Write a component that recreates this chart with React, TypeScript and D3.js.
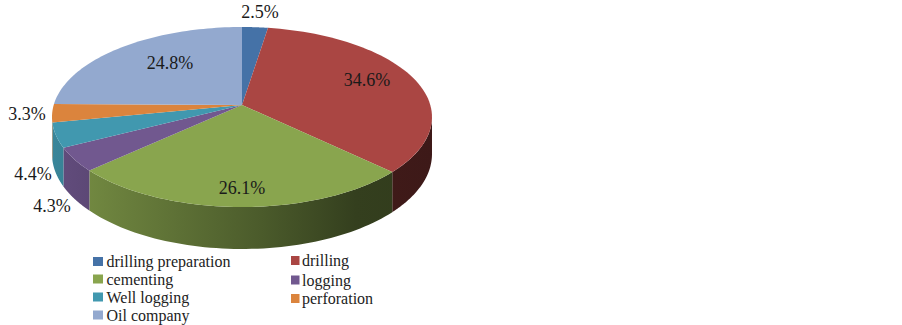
import * as d3 from 'd3';

const categories = ['drilling preparation', 'drilling', 'cementing', 'logging', 'Well logging', 'perforation', 'Oil company'];
const values = [2.5, 34.6, 26.1, 4.3, 4.4, 3.3, 24.8];
const colors = ['#4572a7', '#aa4643', '#89a54e', '#71588f', '#4198af', '#db843d', '#93a9cf'];

// hand placed, Excel moved these around
const labelPos: [number, number][] = [[260, 12], [367, 80], [242, 188], [52, 206], [33, 174], [27, 114], [170, 63]];
const legendPos: [number, number][] = [[93, 261.5], [291, 260.5], [93, 279], [291, 280], [93, 297], [291, 298.5], [93, 315]];

const W = 902;
const H = 325;
const cx = 242;
const cy = 105;
const a = 188.3;
const b = 88.4;
const k = 0.1333; // perspective foreshortening
const depth = 36.4;

// angle (0 = up, clockwise) -> tilted pie rim, r is 0..1
const project = (t: number, r = 1, drop = 0): [number, number] => {
  const w = 1 + k * r * Math.cos(t);
  return [cx + (a * r * Math.sin(t)) / w, cy - (b * r * Math.cos(t)) / w + (drop ? depth / w : 0)];
};

const samples = (t0: number, t1: number) => d3.range(0, 61).map((i) => t0 + ((t1 - t0) * i) / 60);

const line = d3.line();

// shade of the side wall going left to right
const shadeStops = [
  { offset: 0, f: 0.88 },
  { offset: 0.55, f: 0.55 },
  { offset: 0.8, f: 0.38 },
  { offset: 1, f: 0.36 },
];

const shade = (color: string, f: number) => {
  const c = d3.rgb(color);
  return d3.rgb(c.r * f, c.g * f, c.b * f).formatHex();
};

export default function App() {
  const slices = d3.pie<number>().sort(null)(values);

  // rim is only visible between the two silhouette points
  const wallStart = Math.acos(-k);
  const wallEnd = 2 * Math.PI - wallStart;

  return (
    <svg width={W} height={H} style={{ position: 'absolute', left: 0, top: 0, background: '#fff' }} fontFamily="'Liberation Serif', serif">
      <defs>
        {colors.map((c, i) => (
          <linearGradient key={i} id={`wall-${i}`} gradientUnits="userSpaceOnUse" x1={52} x2={432} y1={0} y2={0}>
            {shadeStops.map((s) => (
              <stop key={s.offset} offset={s.offset} stopColor={shade(c, s.f)} />
            ))}
          </linearGradient>
        ))}
      </defs>

      {slices.map((s, i) => {
        const t0 = Math.max(s.startAngle, wallStart);
        const t1 = Math.min(s.endAngle, wallEnd);
        if (t1 <= t0) return null;
        const ts = samples(t0, t1);
        const pts = [...ts.map((t) => project(t)), ...[...ts].reverse().map((t) => project(t, 1, 1))];
        return <path key={i} d={line(pts) + 'Z'} fill={`url(#wall-${i})`} />;
      })}

      {slices.map((s, i) => {
        const rim = samples(s.startAngle, s.endAngle).map((t) => project(t));
        return <path key={i} d={line([[cx, cy], ...rim]) + 'Z'} fill={colors[i]} />;
      })}

      {values.map((v, i) => (
        <text key={i} x={labelPos[i][0]} y={labelPos[i][1]} textAnchor="middle" dominantBaseline="central" fontSize={18} fill="#1a1a1a">
          {v.toFixed(1)}%
        </text>
      ))}

      {categories.map((name, i) => (
        <g key={name} transform={`translate(${legendPos[i][0]},${legendPos[i][1]})`}>
          <rect x={0} y={-4.5} width={i % 2 && i < 6 ? 8.5 : 10} height={9} fill={colors[i]} />
          <text x={i % 2 && i < 6 ? 11 : 13.5} y={0} dominantBaseline="central" fontSize={16} fill="#222">
            {name}
          </text>
        </g>
      ))}
    </svg>
  );
}
